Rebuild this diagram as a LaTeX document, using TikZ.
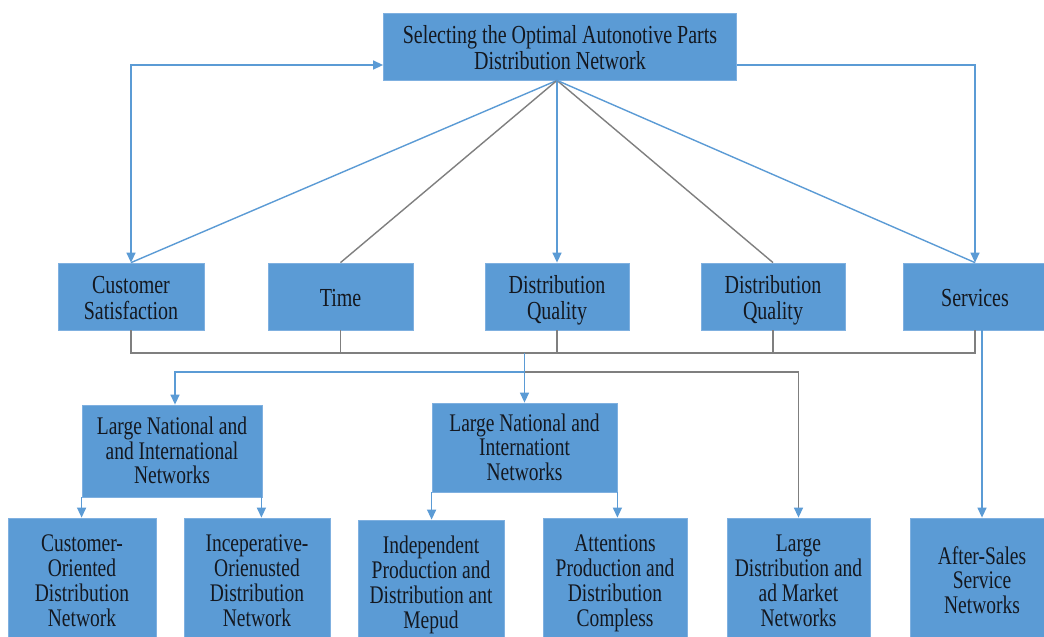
\documentclass[tikz,border=0pt]{standalone}
\usepackage{fontspec}
\usepackage{graphicx}
\setmainfont{Liberation Serif}
\usetikzlibrary{arrows.meta,calc}
\definecolor{boxblue}{HTML}{5B9BD5}
\definecolor{boxedge}{HTML}{7FB0E0}
\definecolor{lineblue}{HTML}{5B9BD5}
\definecolor{linegray}{HTML}{7F7F7F}
\definecolor{txt}{HTML}{141820}
\newcommand\stt[2][3pt]{\raisebox{-#1}[\height][\depth]{\scalebox{1}[1.3]{\begin{tabular}{@{}c@{}}#2\end{tabular}}}}
\begin{document}
\begin{tikzpicture}[x=1pt,y=-1pt,
  box/.style={rectangle,fill=boxblue,draw=boxedge,line width=0.8pt,inner sep=0pt,text=txt,font=\fontsize{19.5}{18.5}\selectfont},
  bigbox/.style={box,font=\fontsize{20}{19.5}\selectfont},
  bl/.style={draw=lineblue,line width=1.4pt},
  gl/.style={draw=linegray,line width=1.4pt},
  tip/.style={-{Triangle[length=10pt,width=9pt,color=lineblue]}},
  tipboth/.style={{Triangle[length=10pt,width=9pt,color=lineblue]}-{Triangle[length=10pt,width=9pt,color=lineblue]}}]
\useasboundingbox (0,0) rectangle (1044,637);
\clip (0,0) rectangle (1044,637);
\fill[white] (0,0) rectangle (1044,637);

% nodes
\node[bigbox,minimum width=353pt,minimum height=67pt] (top) at (560,46.5) {\stt[5pt]{Selecting the Optimal Autonotive Parts\\Distribution Network}};
\node[bigbox,minimum width=146pt,minimum height=67pt] (cs) at (131,296.5) {\stt[5pt]{Customer\\Satisfaction}};
\node[bigbox,minimum width=145pt,minimum height=67pt] (time) at (340.5,296.5) {\stt[5pt]{Time}};
\node[bigbox,minimum width=144pt,minimum height=67pt] (dq1) at (557,296.5) {\stt[5pt]{Distribution\\Quality}};
\node[bigbox,minimum width=144pt,minimum height=67pt] (dq2) at (773,296.5) {\stt[5pt]{Distribution\\Quality}};
\node[bigbox,minimum width=144pt,minimum height=67pt] (serv) at (975,296.5) {\stt[5pt]{Services}};

\node[box,minimum width=180pt,minimum height=92pt] (lnin1) at (172,451) {\stt{Large National and\\and International\\Networks}};
\node[box,minimum width=185pt,minimum height=89pt] (lnin2) at (524.5,447.5) {\stt{Large National and\\Internationt\\Networks}};

\node[box,minimum width=148pt,minimum height=126pt] (co) at (82,581) {\stt{Customer-\\Oriented\\Distribution\\Network}};
\node[box,minimum width=146pt,minimum height=126pt] (io) at (257,581) {\stt{Inceperative-\\Orienusted\\Distribution\\Network}};
\node[box,minimum width=146pt,minimum height=126pt] (ip) at (431,583) {\stt{Independent\\Production and\\Distribution ant\\Mepud}};
\node[box,minimum width=144pt,minimum height=126pt] (ap) at (615,581) {\stt{Attentions\\Production and\\Distribution\\Compless}};
\node[box,minimum width=143pt,minimum height=126pt] (ld) at (798.5,581) {\stt{Large\\Distribution and\\ad Market\\Networks}};
\node[box,minimum width=144pt,minimum height=126pt] (as) at (982,581) {\stt{After-Sales\\Service\\Networks}};

% helper coordinates
\coordinate (hub) at (dq1.north |- top.south);
\coordinate (bus) at (0,353);
\coordinate (br) at (0,372);

% top connectors
\draw[bl] (hub) -- (cs.north);
\draw[gl] (hub) -- (time.north);
\draw[bl,tip] (hub) -- (dq1.north);
\draw[gl] (hub) -- (dq2.north);
\draw[bl] (hub) -- (serv.north);
\draw[bl,tipboth] (cs.north) |- ([yshift=-18.5pt]top.west);
\draw[bl,tip] ([yshift=-18.5pt]top.east) -| (serv.north);

% bus
\draw[gl] (cs.south) -- (cs.south |- bus) -- (serv.south |- bus) -- (serv.south);
\foreach \n in {time,dq1,dq2} \draw[gl] (\n.south) -- (\n.south |- bus);

% branches
\draw[gl,tip] (lnin2.north |- br) -| (ld.north);
\draw[bl,tip] (lnin2.north |- br) -| ([xshift=3pt]lnin1.north);
\draw[bl,tip] (lnin2.north |- bus) -- (lnin2.north);
\draw[bl,tip] (as.north |- serv.south) -- (as.north);

% lower arrows
\draw[bl,tip] (lnin1.south west) -- (lnin1.south west |- co.north);
\draw[bl,tip] ([xshift=-1pt]lnin1.south east) -- ([xshift=-1pt]lnin1.south east |- io.north);
\draw[bl,tip] (lnin2.south west) -- (lnin2.south west |- ip.north);
\draw[bl,tip] (lnin2.south east) -- (lnin2.south east |- ap.north);
\end{tikzpicture}
\end{document}
